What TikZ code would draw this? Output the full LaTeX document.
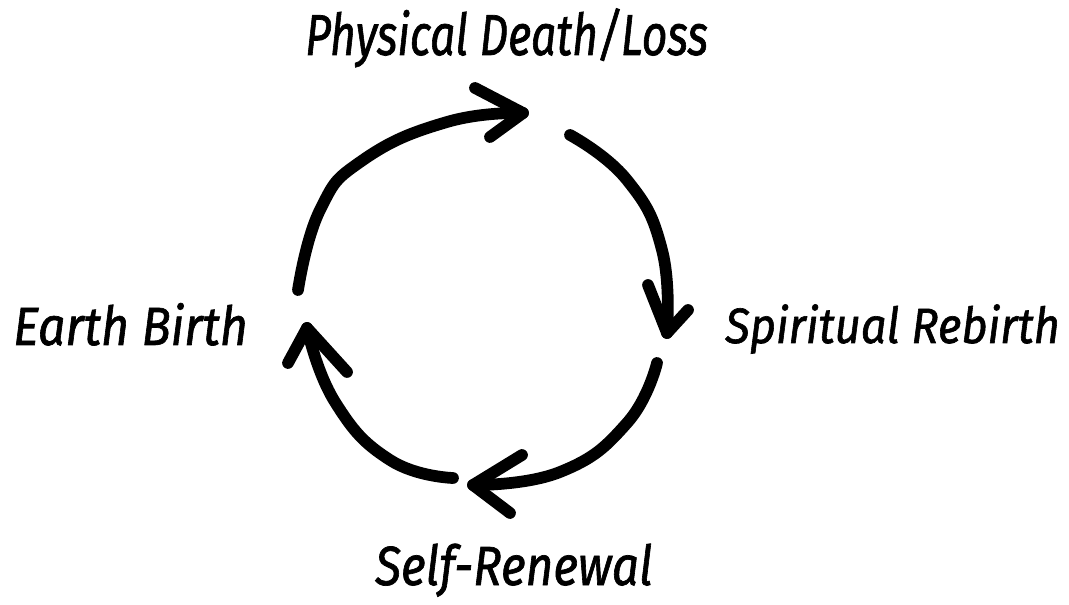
\documentclass[tikz,border=0pt]{standalone}
\usepackage{fontspec}
\setmainfont{Fira Sans}
\newfontfamily\hand{Fira Sans}[FakeBold=1.3]
\usepackage{graphicx}
\begin{document}
\begin{tikzpicture}[x=0.75pt,y=-0.75pt,
  arc/.style={line width=8.8pt,line cap=round,line join=round},
  lbl/.style={inner sep=0pt,anchor=base west,font=\hand\itshape}]
\useasboundingbox (0,0) rectangle (1069,605);
% labels
\node[lbl] (top) at (305,55) {\resizebox{302pt}{35pt}{Physical Death/Loss}};
\node[lbl] (left) at (13,345) {\resizebox{176pt}{31.5pt}{Earth Birth}};
\node[lbl] (right) at (725,343) {\resizebox{251pt}{29pt}{Spiritual Rebirth}};
\node[lbl] (bottom) at (375,585) {\resizebox{208pt}{31pt}{Self-Renewal}};
% arrow 1 (left -> top)
\coordinate (a1s) at (298,290); \coordinate (a1t) at (523,113);
\coordinate (a1u) at (475,88); \coordinate (a1d) at (490,137);
\draw[arc] plot[smooth,tension=0.8] coordinates {(a1s) (320,210) (363,160) (447,122) (a1t)};
\draw[arc] (a1u) -- (a1t) -- (a1d);
% arrow 2 (top -> right)
\coordinate (a2s) at (570,135); \coordinate (a2t) at (667,333);
\coordinate (a2u) at (648,285); \coordinate (a2d) at (688,310);
\draw[arc] plot[smooth,tension=0.8] coordinates {(a2s) (627,180) (662,250) (a2t)};
\draw[arc] (a2u) -- (a2t) -- (a2d);
% arrow 3 (right -> bottom)
\coordinate (a3s) at (657,363); \coordinate (a3t) at (473,485);
\coordinate (a3u) at (522,455); \coordinate (a3d) at (510,513);
\draw[arc] plot[smooth,tension=0.8] coordinates {(a3s) (627,423) (560,472) (a3t)};
\draw[arc] (a3u) -- (a3t) -- (a3d);
% arrow 4 (bottom -> left)
\coordinate (a4s) at (453,478); \coordinate (a4t) at (307,328);
\coordinate (a4u) at (288,363); \coordinate (a4d) at (347,372);
\draw[arc] plot[smooth,tension=0.8] coordinates {(a4s) (390,460) (335,402) (a4t)};
\draw[arc] (a4u) -- (a4t) -- (a4d);
\end{tikzpicture}
\end{document}
